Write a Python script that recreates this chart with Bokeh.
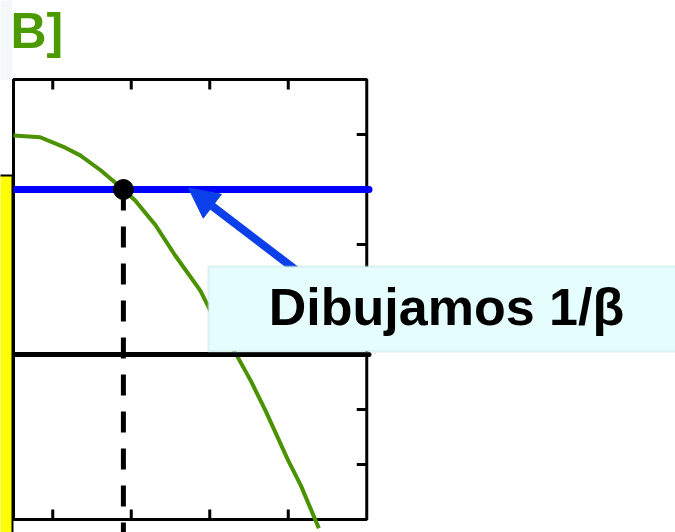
from bokeh.plotting import figure
from bokeh.models import Range1d, Arrow, NormalHead, BoxAnnotation, Label
from bokeh.embed import file_html
from bokeh.resources import INLINE
from bokeh.core.properties import value

# Open-loop gain (dB) against log-frequency (decades)
freq = [0.50, 0.84, 1.16, 1.35, 1.61, 1.90, 2.05, 2.31, 2.56, 2.88, 3.07,
        3.33, 3.52, 3.71, 4.00, 4.16, 4.39]
gain_db = [39.8, 39.5, 37.6, 36.2, 33.5, 30.0, 28.0, 23.5, 18.0, 11.6, 6.2,
           0.2, -4.7, -10.2, -19.3, -23.8, -31.6]

inv_beta_db = 30.0          # 1/beta level
cross_freq = 1.90           # where the gain meets 1/beta
x_ticks = [1, 2, 3, 4]
y_ticks = [-20, -10, 0, 10, 20, 30, 40]

# Box of the plot in data units
X0, X1 = 0.5, 5.0
Y0, Y1 = -30.0, 50.0

# Pixel scale of the page (px per data unit)
SX, SY = 78.5, 5.5
W, H = 675, 532
OX, OY = 13, 354            # pixel position of (X0, 0)


def dx(px):
    return X0 + (px - OX) / SX


def dy(py):
    return (OY - py) / SY


p = figure(width=W, height=H, output_backend="svg", toolbar_location=None,
           x_range=Range1d(dx(0), dx(W)), y_range=Range1d(dy(H), dy(0)),
           x_axis_location=None, y_axis_location=None, min_border=0,
           outline_line_color=None, background_fill_color="white",
           border_fill_color="white")
p.grid.visible = False

# faint strip at the top-left corner
p.quad(left=[dx(-5)], right=[dx(12)], bottom=[dy(80)], top=[dy(-5)],
       fill_color="#f3f6f8", fill_alpha=0.8, line_color=None)

# heading
p.text(x=[dx(10)], y=[dy(30)], text=["B]"], text_font=value("Liberation Sans"),
       text_font_style="bold", text_font_size="50px", text_color="#4a9a00",
       text_baseline="alphabetic", text_align="left")

# frame and inward ticks
p.quad(left=[X0], right=[X1], bottom=[Y0], top=[Y1], fill_color=None,
       line_color="black", line_width=3)
tl_x = 10 / SX
tl_y = 10 / SY
p.segment(x0=x_ticks, x1=x_ticks, y0=[Y1] * len(x_ticks),
          y1=[Y1 - tl_y] * len(x_ticks), line_color="black", line_width=3)
p.segment(x0=x_ticks, x1=x_ticks, y0=[Y0] * len(x_ticks),
          y1=[Y0 + tl_y] * len(x_ticks), line_color="black", line_width=3)
p.segment(x0=[X1] * len(y_ticks), x1=[X1 - tl_x] * len(y_ticks), y0=y_ticks,
          y1=y_ticks, line_color="black", line_width=3)

# gain curve
p.line(freq, gain_db, line_color="#4b9200", line_width=4)

# 0 dB line and 1/beta line
x_end = dx(368.5)
p.line([X0, x_end], [0, 0], line_color="black", line_width=5, line_cap="round")
p.line([X0, x_end], [inv_beta_db, inv_beta_db], line_color="#0000ff",
       line_width=7, line_cap="round")

# dashed drop from the crossing point
p.line([cross_freq, cross_freq], [inv_beta_db, dy(H + 10)], line_color="black",
       line_width=5, line_dash="21 16")
p.scatter([cross_freq], [inv_beta_db], size=20, marker="circle",
          fill_color="black", line_color="black")

# yellow bar on the left edge
p.quad(left=[dx(-10)], right=[dx(12)], bottom=[dy(H + 10)], top=[dy(175)],
       fill_color="#ffff00", line_color="black", line_width=2)

# callout arrow pointing at the 1/beta line
arrow_color = "#0b3fea"
p.add_layout(Arrow(end=NormalHead(size=30, fill_color=arrow_color,
                                  line_color=arrow_color),
                   x_start=dx(300), y_start=dy(273), x_end=dx(188),
                   y_end=dy(187.5), line_color=arrow_color, line_width=8))

# callout box and its text
p.add_layout(BoxAnnotation(left=dx(208), right=dx(W + 20), bottom=dy(351),
                           top=dy(266), fill_color="#e6fdfd", fill_alpha=1.0,
                           line_color="#b2dcdc", line_width=2.5,
                           level="overlay"))
p.add_layout(Label(x=dx(446), y=dy(306), text="Dibujamos 1/β",
                   text_font="Liberation Sans", text_font_style="bold",
                   text_font_size="52px", text_color="black",
                   text_align="center", text_baseline="alphabetic",
                   level="overlay"))

open("out.html", "w").write(file_html(p, INLINE))
